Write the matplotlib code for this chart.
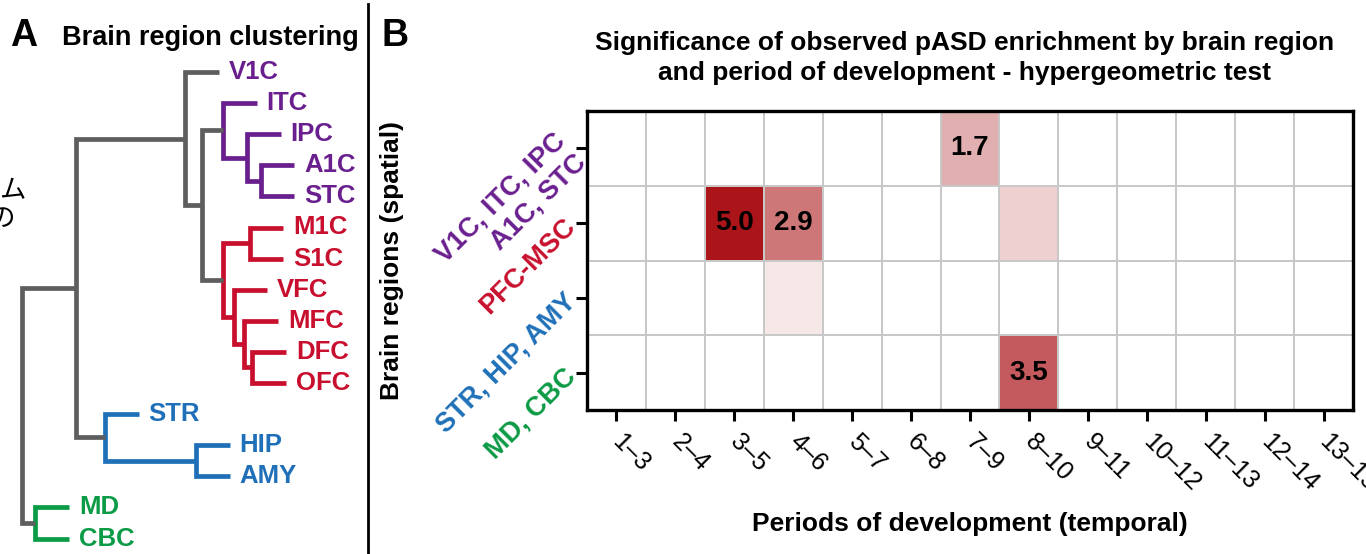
import numpy as np
import matplotlib
matplotlib.use("Agg")
import matplotlib.pyplot as plt
from matplotlib.colors import LinearSegmentedColormap

plt.rcParams['font.family'] = ['Liberation Sans', 'Noto Sans CJK JP', 'DejaVu Sans']

# ---- data ----
leaves = ["V1C", "ITC", "IPC", "A1C", "STC", "M1C", "S1C", "VFC", "MFC",
          "DFC", "OFC", "STR", "HIP", "AMY", "MD", "CBC"]
leaf_cluster = [0, 0, 0, 0, 0, 1, 1, 1, 1, 1, 1, 2, 2, 2, 3, 3]
cluster_colors = ["#6a1f8f", "#c8102e", "#1f70b8", "#0b9a45"]
link_gray = "#5e5e5e"

# merges (left, right, height); new node names n0, n1, ...
links = [
    ("A1C", "STC", 0.11),   # n0
    ("IPC", "n0", 0.16),    # n1
    ("ITC", "n1", 0.25),    # n2
    ("M1C", "S1C", 0.15),   # n3
    ("DFC", "OFC", 0.14),   # n4
    ("MFC", "n4", 0.17),    # n5
    ("VFC", "n5", 0.21),    # n6
    ("n3", "n6", 0.25),     # n7
    ("n2", "n7", 0.33),     # n8
    ("V1C", "n8", 0.39),    # n9
    ("HIP", "AMY", 0.35),   # n10
    ("STR", "n10", 0.69),   # n11
    ("n9", "n11", 0.80),    # n12
    ("MD", "CBC", 0.95),    # n13
    ("n12", "n13", 1.00),   # n14
]
leaf_stub = 0.125

region_groups = ["V1C, ITC, IPC\nA1C, STC", "PFC-MSC", "STR, HIP, AMY", "MD, CBC"]
periods = ["1–3", "2–4", "3–5", "4–6", "5–7", "6–8", "7–9", "8–10",
           "9–11", "10–12", "11–13", "12–14", "13–15"]
# -log10 p of enrichment, rows = region groups, cols = periods
enrich = np.array([
    [0, 0, 0,   0,   0, 0, 1.7, 0,   0, 0, 0, 0, 0],
    [0, 0, 5.0, 2.9, 0, 0, 0,   1.0, 0, 0, 0, 0, 0],
    [0, 0, 0,   0.5, 0, 0, 0,   0,   0, 0, 0, 0, 0],
    [0, 0, 0,   0,   0, 0, 0,   3.5, 0, 0, 0, 0, 0],
])
label_threshold = 1.3

W, H = 1366, 554
fig = plt.figure(figsize=(W / 100, H / 100), dpi=100)

# ---- panel A: dendrogram ----
axA = fig.add_axes([0, 0, 368 / W, 1])
axA.set_xlim(290 / 268, -78 / 268)
axA.set_ylim((554 - 72) / 31.1, -72 / 31.1)
axA.axis("off")

pos = {}
members = {}
for i, name in enumerate(leaves):
    members[name] = [i]
for k, (a, b, h) in enumerate(links):
    members["n%d" % k] = members[a] + members[b]


def node_pos(name, parent_h):
    if name in leaves:
        return parent_h - leaf_stub, leaves.index(name)
    return pos[name]


for k, (a, b, h) in enumerate(links):
    name = "n%d" % k
    ya = node_pos(a, h)[1]
    yb = node_pos(b, h)[1]
    pos[name] = (h, (ya + yb) / 2)

for k, (a, b, h) in enumerate(links):
    name = "n%d" % k
    cl = set(leaf_cluster[i] for i in members[name])
    col = cluster_colors[cl.pop()] if len(cl) == 1 else link_gray
    xa, ya = node_pos(a, h)
    xb, yb = node_pos(b, h)
    axA.plot([xa, h, h, xb], [ya, ya, yb, yb], color=col, lw=3.4,
             solid_capstyle="butt", solid_joinstyle="miter")
    for child in (a, b):
        if child in leaves:
            xl, yl = node_pos(child, h)
            axA.text(xl - 0.037, yl, child, color=cluster_colors[leaf_cluster[yl]],
                     fontsize=18.5, fontweight="bold", ha="left", va="center")

fig.text(10 / W, 1 - 36 / H, "A", fontsize=27, fontweight="bold", va="center", ha="left")
fig.text(62 / W, 1 - 38 / H, "Brain region clustering", fontsize=19.5, fontweight="bold",
         va="center", ha="left")
fig.text(25 / W, 1 - 191 / H, "ム", fontsize=19, ha="right", va="center",
         family=["Noto Sans CJK JP", "DejaVu Sans"])
fig.text(15 / W, 1 - 219 / H, "の", fontsize=19, ha="right", va="center",
         family=["Noto Sans CJK JP", "DejaVu Sans"])

# separator
fig.add_artist(plt.Line2D([368 / W, 368 / W], [0, 1 - 4 / H], color="black", lw=2))

# ---- panel B: heatmap ----
fig.text(382 / W, 1 - 36 / H, "B", fontsize=27, fontweight="bold", va="center", ha="left")

ax = fig.add_axes([587 / W, 144 / H, 766 / W, 299 / H])
cmap = LinearSegmentedColormap.from_list("wr", ["#ffffff", "#ab1418"])
nr, nc = enrich.shape
ax.pcolormesh(np.arange(nc + 1) - 0.5, np.arange(nr + 1) - 0.5, enrich,
              cmap=cmap, vmin=0, vmax=5.0, edgecolors="#c8c8c8", linewidth=1.2)
ax.set_xlim(-0.5, nc - 0.5)
ax.set_ylim(nr - 0.5, -0.5)

for r in range(nr):
    for c in range(nc):
        v = enrich[r, c]
        if v >= label_threshold:
            ax.text(c, r, "%.1f" % v, ha="center", va="center", fontsize=20,
                    fontweight="bold", color="black")

for s in ax.spines.values():
    s.set_linewidth(2.4)
ax.tick_params(length=8, width=2.2, direction="out")

ax.set_xticks(range(nc))
ax.set_xticklabels(periods, rotation=-45, ha="left", va="center",
                   rotation_mode="anchor", fontsize=18)
ax.tick_params(axis="x", pad=12)

ax.set_yticks(range(nr))
ax.set_yticklabels(region_groups, rotation=45, ha="right", va="center",
                   rotation_mode="anchor", fontsize=19.5, fontweight="bold",
                   multialignment="right", linespacing=1.2)
for lbl, col in zip(ax.get_yticklabels(), cluster_colors):
    lbl.set_color(col)
ax.tick_params(axis="y", pad=3)

ax.set_ylabel("Brain regions (spatial)", fontsize=19, fontweight="bold")
ax.yaxis.set_label_coords((404 - 587) / 766, 0.5)
ax.set_xlabel("Periods of development (temporal)", fontsize=19, fontweight="bold")
ax.xaxis.set_label_coords(0.5, -(512 - 410) / 299)

fig.text(965 / W, 1 - 58 / H,
         "Significance of observed pASD enrichment by brain region\n"
         "and period of development - hypergeometric test",
         fontsize=19, fontweight="bold", ha="center", va="center", linespacing=1.35)

fig.savefig("out.png", dpi=100)
